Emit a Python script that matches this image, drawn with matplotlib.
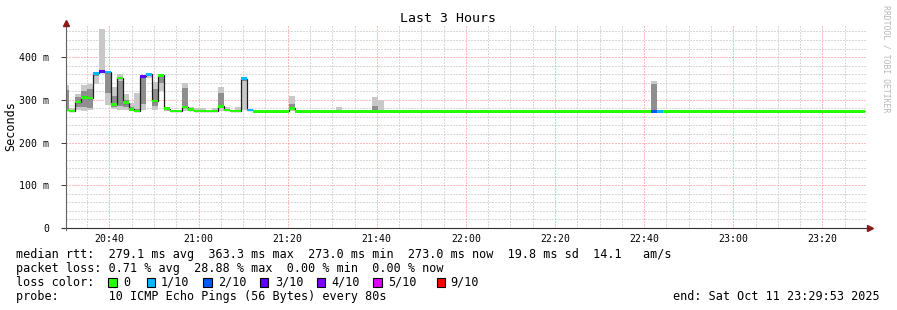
import matplotlib
matplotlib.use("Agg")
import matplotlib.pyplot as plt
from matplotlib.lines import Line2D
from matplotlib.patches import Rectangle
from matplotlib.ticker import MultipleLocator
import numpy as np

W, H = 897, 310
MONO = "DejaVu Sans Mono"

# time is in minutes after 20:00
x_start, x_end = 30.33, 209.88
step_min = 80 / 60.0
first_step = 29.62   # start of the first (partial) 80 s step

# median rtt per 80 s step, ms
median_ms = [
    276, 274, 295, 306, 304, 362, 366, 365, 289, 351, 293, 278, 274, 355, 360,
    297, 357, 279, 274, 274, 283, 277, 274, 274, 274, 274, 285, 276, 274, 274,
    349, 276, 273, 273, 273, 273, 273, 273, 280, 273, 273, 273, 273, 273, 273,
    273, 273, 273, 273, 273, 273, 273, 273, 273, 273, 273, 273, 273, 273, 273,
    273, 273, 273, 273, 273, 273, 273, 273, 273, 273, 273, 273, 273, 273, 273,
    273, 273, 273, 273, 273, 273, 273, 273, 273, 273, 273, 273, 273, 273, 273,
    273, 273, 273, 273, 273, 273, 273, 273, 273, 273, 273, 273, 273, 273, 273,
    273, 273, 273, 273, 273, 273, 273, 273, 273, 273, 273, 273, 273, 273, 273,
    273, 273, 273, 273, 273, 273, 273, 273, 273, 273, 273, 273, 273, 273, 273,
]

# steps with lost pings (count out of 10)
loss_steps = [5, 6, 7, 13, 14, 30, 31, 99, 100]
loss_count = [1, 3, 1, 3, 1, 1, 1, 2, 1]

# smoke: spread of the 10 pings for the steps that have any
smoke_steps = [0, 1, 2, 3, 4, 5, 6, 7, 8, 9, 10, 11, 12, 13, 14, 15, 16, 17,
               20, 21, 22, 23, 25, 26, 27, 29, 30, 38, 46, 52, 53, 99]
smoke_min = [273, 273, 276, 274, 275, 337, 364, 288, 279, 275, 276, 275, 274, 275, 352, 275, 321, 274,
             274, 276, 274, 274, 274, 274, 274, 274, 276, 273, 273, 273, 273, 273]
smoke_lo = [279, 274, 282, 284, 281, 355, 365, 316, 284, 285, 282, 276, 274, 290, 356, 285, 340, 276,
            285, 277, 274, 274, 274, 280, 275, 274, 345, 276, 273, 273, 273, 273]
smoke_hi = [322, 277, 306, 320, 326, 362, 368, 364, 310, 345, 300, 284, 278, 350, 360, 325, 356, 280,
            327, 279, 275, 275, 275, 315, 277, 275, 349, 290, 274, 286, 274, 337]
smoke_max = [335, 281, 314, 334, 338, 364, 466, 366, 330, 360, 314, 293, 316, 357, 362, 342, 358, 284,
             339, 282, 280, 280, 281, 331, 283, 282, 350, 309, 283, 307, 300, 344]

loss_colors = {0: "#26ff00", 1: "#00b8ff", 2: "#0059ff", 3: "#5e00ff",
               4: "#7e00ff", 5: "#dd00ff", 9: "#ff0000"}
legend_keys = [0, 1, 2, 3, 4, 5, 9]

time_labels = ["20:40", "21:00", "21:20", "21:40", "22:00",
               "22:20", "22:40", "23:00", "23:20"]
y_ticks = [0, 100, 200, 300, 400]


def fx(px):
    return px / W


def fy(py):
    return 1 - py / H


fig = plt.figure(figsize=(W / 100, H / 100), dpi=100)
fig.patch.set_facecolor("white")
ax = fig.add_axes([fx(66.3), fy(228), (866.5 - 66.3) / W, (228 - 25) / H])
ax.set_xlim(x_start, x_end)
ax.set_ylim(0, 475)

n = len(median_ms)
t0 = first_step + step_min * np.arange(n)
edges = first_step + step_min * np.arange(n + 1)
med = np.array(median_ms, dtype=float)

# smoke
st = first_step + step_min * np.array(smoke_steps)
ax.bar(st, np.subtract(smoke_max, smoke_min), bottom=smoke_min, width=step_min,
       align="edge", color="#c8c8c8", linewidth=0, zorder=2)
ax.bar(st, np.subtract(smoke_hi, smoke_lo), bottom=smoke_lo, width=step_min,
       align="edge", color="#8e8e8e", linewidth=0, zorder=3)

# median line and loss coloured band
ax.stairs(med, edges, baseline=None, color="#1e1e1e", linewidth=0.9, zorder=4)
loss = np.zeros(n, dtype=int)
loss[loss_steps] = loss_count
cols = [loss_colors[l if l <= 5 else 9] for l in loss]
band = 6.5
ax.bar(t0, band, bottom=med - band / 2, width=step_min, align="edge",
       color=cols, linewidth=0, zorder=5)

# grid
xt = [int(s[:2]) * 60 + int(s[3:]) - 1200 for s in time_labels]
ax.set_xticks(xt)
ax.set_xticklabels(time_labels, fontfamily=MONO, fontsize=7.1)
ax.xaxis.set_minor_locator(MultipleLocator(5))
ax.set_yticks(y_ticks)
ax.set_yticklabels(["0" if v == 0 else f"{v} m" for v in y_ticks],
                   fontfamily=MONO, fontsize=7.1)
ax.yaxis.set_minor_locator(MultipleLocator(20))
ax.set_axisbelow(True)
ax.grid(which="minor", color="#b4b4b4", linestyle=(0, (1, 2)), linewidth=0.72)
ax.grid(which="major", color="#ff7a7a", linestyle=(0, (1, 2)), linewidth=0.72)
ax.tick_params(axis="x", which="both", length=0, pad=4)
ax.tick_params(axis="y", which="minor", length=0)
ax.tick_params(axis="y", which="major", length=3.3, width=0.72,
               color="#404040", pad=9)
for s in ax.spines.values():
    s.set_visible(False)

# axis lines with arrows
fig.add_artist(Line2D([fx(62), fx(869)], [fy(228), fy(228)],
                      color="#303030", linewidth=0.8))
fig.add_artist(Line2D([fx(66.3), fx(66.3)], [fy(230), fy(24)],
                      color="#606060", linewidth=0.8))
fig.add_artist(Line2D([fx(870)], [fy(228)], marker=">", markersize=4,
                      color="#8b1a1a", linestyle="none"))
fig.add_artist(Line2D([fx(66.3)], [fy(22.5)], marker="^", markersize=4,
                      color="#8b1a1a", linestyle="none"))

# titles
fig.text(fx(448), fy(19), "Last 3 Hours", ha="center", va="center",
         fontfamily=MONO, fontsize=9.5)
fig.text(fx(11), fy(126), "Seconds", ha="center", va="center", rotation=90,
         fontfamily=MONO, fontsize=8.5)
fig.text(fx(886), fy(5), "RRDTOOL / TOBI OETIKER", ha="center", va="top",
         rotation=270, fontfamily=MONO, fontsize=5.9, color="#b8b8b8")

# legend lines
fs = 8.5
fig.text(fx(16), fy(254.3),
         "median rtt:  279.1 ms avg  363.3 ms max  273.0 ms min  273.0 ms now  19.8 ms sd  14.1   am/s",
         va="center", fontfamily=MONO, fontsize=fs)
fig.text(fx(16), fy(268.3),
         "packet loss: 0.71 % avg  28.88 % max  0.00 % min  0.00 % now",
         va="center", fontfamily=MONO, fontsize=fs)
fig.text(fx(16), fy(282.3), "loss color:", va="center", fontfamily=MONO, fontsize=fs)
sw_x = [108.3, 146.7, 203.3, 260, 316.7, 373.3, 436.7]
lab_x = [123.3, 161, 218, 275, 331.7, 388, 450]
for k, sx, lx in zip(legend_keys, sw_x, lab_x):
    fig.add_artist(Rectangle((fx(sx), fy(286.7)), 8.3 / W, 8.3 / H,
                             facecolor=loss_colors[k], edgecolor="black",
                             linewidth=0.8, transform=fig.transFigure))
    fig.text(fx(lx), fy(282.3), "0" if k == 0 else f"{k}/10", va="center",
             fontfamily=MONO, fontsize=fs)
fig.text(fx(16), fy(296.7),
         "probe:       10 ICMP Echo Pings (56 Bytes) every 80s",
         va="center", fontfamily=MONO, fontsize=fs)
fig.text(fx(880), fy(296.7), "end: Sat Oct 11 23:29:53 2025", ha="right",
         va="center", fontfamily=MONO, fontsize=fs)

fig.savefig("out.png", dpi=100, facecolor="white")
